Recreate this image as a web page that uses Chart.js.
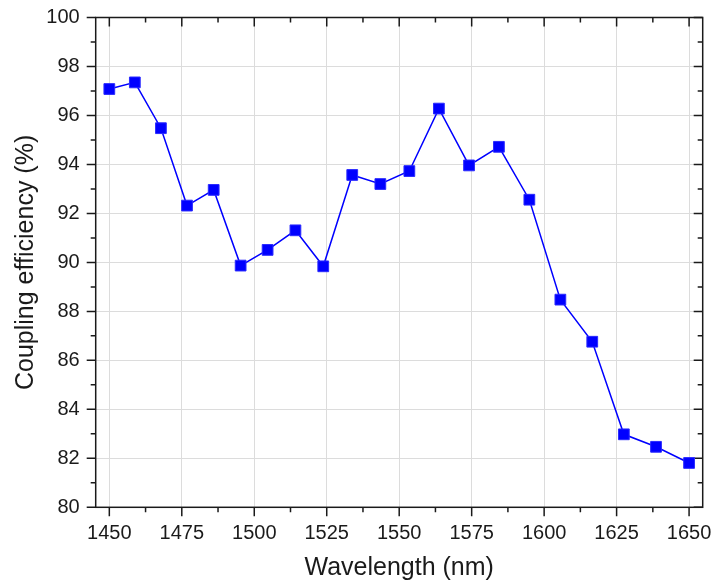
<!DOCTYPE html>
<html>
<head>
<meta charset="utf-8">
<script src="https://cdn.jsdelivr.net/npm/chart.js@4.4.0/dist/chart.umd.min.js"></script>
<style>
  html, body { margin: 0; padding: 0; background: #fff; }
  canvas { display: block; }
</style>
</head>
<body>
<canvas id="chart" width="714" height="586"></canvas>
<script>
var wavelength = [1450, 1458.8, 1467.8, 1476.8, 1486.0, 1495.3, 1504.6, 1514.2, 1523.8, 1533.8, 1543.5,
  1553.5, 1563.7, 1574.1, 1584.4, 1594.9, 1605.6, 1616.6, 1627.5, 1638.6, 1650];
var efficiency = [97.08, 97.35, 95.48, 92.32, 92.96, 89.87, 90.51, 91.31, 89.84, 93.57, 93.20,
  93.73, 96.28, 93.96, 94.72, 92.56, 88.48, 86.76, 82.98, 82.47, 81.81];

var xTicks = [1450, 1475, 1500, 1525, 1550, 1575, 1600, 1625, 1650];
var xMinorTicks = [1462.5, 1487.5, 1512.5, 1537.5, 1562.5, 1587.5, 1612.5, 1637.5];
var yTicks = [80, 82, 84, 86, 88, 90, 92, 94, 96, 98, 100];
var yMinorTicks = [81, 83, 85, 87, 89, 91, 93, 95, 97, 99];

var font = "'Liberation Sans', Arial, sans-serif";

// frame on all four sides, ticks out on bottom/left, in on top/right
var framePlugin = {
  id: "frame",
  beforeDatasetsDraw: function (chart) {
    var c = chart.ctx, a = chart.chartArea;
    var xs = chart.scales.x, ys = chart.scales.y;
    c.save();
    c.strokeStyle = "#1a1a1a";
    c.lineWidth = 1.5;
    c.beginPath();
    function tx(v, len) {
      var p = xs.getPixelForValue(v);
      c.moveTo(p, a.bottom); c.lineTo(p, a.bottom + len);
      c.moveTo(p, a.top); c.lineTo(p, a.top + len);
    }
    function ty(v, len) {
      var p = ys.getPixelForValue(v);
      c.moveTo(a.left, p); c.lineTo(a.left - len, p);
      c.moveTo(a.right, p); c.lineTo(a.right - len, p);
    }
    xTicks.forEach(function (v) { tx(v, 9); });
    xMinorTicks.forEach(function (v) { tx(v, 5); });
    yTicks.forEach(function (v) { ty(v, 9); });
    yMinorTicks.forEach(function (v) { ty(v, 5); });
    c.stroke();
    c.strokeRect(a.left, a.top, a.right - a.left, a.bottom - a.top);
    c.restore();
  }
};

function plain(v) { return String(v); }

var ctx = document.getElementById("chart").getContext("2d");
var myChart = new Chart(ctx, {
  type: "scatter",
  data: {
    datasets: [
      {
        label: "Coupling efficiency",
        data: wavelength.map(function (w, i) { return { x: w, y: efficiency[i] }; }),
        showLine: true,
        borderColor: "#0000ff",
        borderWidth: 1.5,
        pointStyle: "rect",
        pointRadius: 7.6,
        pointBackgroundColor: "#0000ff",
        pointBorderColor: "#2a2aff",
        pointBorderWidth: 1,
      },
    ],
  },
  options: {
    responsive: false,
    animation: false,
    devicePixelRatio: 1,
    layout: { autoPadding: false, padding: { top: 17.5, right: 11.3, left: 0, bottom: 0 } },
    plugins: { legend: { display: false }, tooltip: { enabled: false } },
    scales: {
      x: {
        type: "linear",
        min: 1445.3,
        max: 1654.7,
        afterBuildTicks: function (s) { s.ticks = xTicks.map(function (v) { return { value: v }; }); },
        afterFit: function (s) { s.height = 78.7; s.paddingLeft = 0; s.paddingRight = 0; },
        border: { display: false },
        grid: { color: "#dcdcdc", lineWidth: 1, drawTicks: false },
        ticks: { color: "#1a1a1a", padding: 14, maxRotation: 0, callback: plain, font: { family: font, size: 20 } },
        title: { display: true, text: "Wavelength (nm)", color: "#1a1a1a", padding: { top: 0, bottom: 3 }, font: { family: font, size: 25 } },
      },
      y: {
        type: "linear",
        min: 80,
        max: 100,
        afterBuildTicks: function (s) { s.ticks = yTicks.map(function (v) { return { value: v }; }); },
        afterFit: function (s) { s.width = 95.7; s.paddingTop = 0; s.paddingBottom = 0; },
        border: { display: false },
        grid: { color: "#dcdcdc", lineWidth: 1, drawTicks: false },
        ticks: { color: "#1a1a1a", padding: 16, callback: plain, font: { family: font, size: 20 } },
        title: { display: true, text: "Coupling efficiency (%)", color: "#1a1a1a", padding: { top: 11, bottom: 0 }, font: { family: font, size: 25 } },
      },
    },
  },
  plugins: [framePlugin],
});
</script>
</body>
</html>
